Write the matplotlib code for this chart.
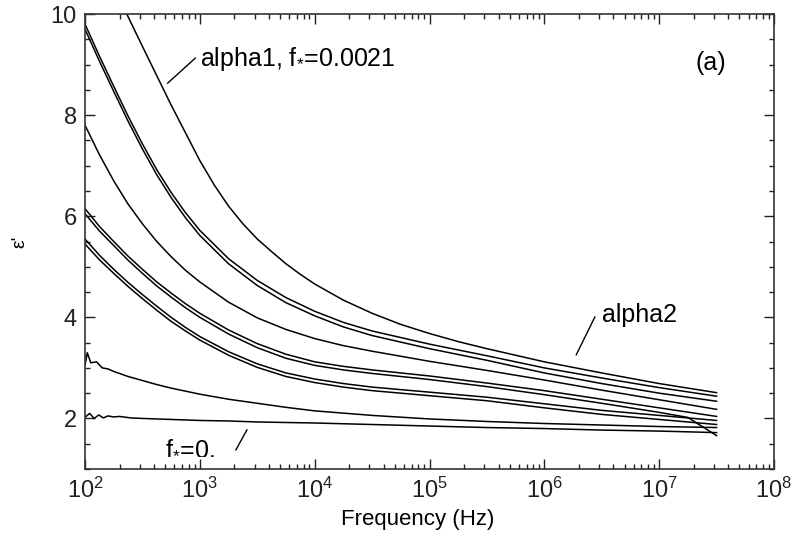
import matplotlib
matplotlib.use('Agg')
import matplotlib.pyplot as plt
from matplotlib.ticker import LogLocator, MultipleLocator, FixedLocator, FixedFormatter, NullFormatter

plt.rcParams['font.family'] = ['Liberation Sans', 'DejaVu Sans']
plt.rcParams['mathtext.fontset'] = 'custom'
plt.rcParams['mathtext.rm'] = 'Liberation Sans'
plt.rcParams['mathtext.it'] = 'Liberation Sans:italic'
plt.rcParams['mathtext.bf'] = 'Liberation Sans:bold'

# ---- data (log10 of frequency in Hz, epsilon') ----
log_f = [2.0, 2.125, 2.25, 2.375, 2.5, 2.625, 2.75, 2.875, 3.0, 3.25, 3.5, 3.75,
         4.0, 4.25, 4.5, 5.0, 5.5, 6.0, 6.5, 7.0, 7.5]

log_f_a = [2.3, 2.4, 2.5, 2.625, 2.75, 2.875, 3.0, 3.125, 3.25, 3.375, 3.5, 3.625,
           3.75, 3.875, 4.0, 4.25, 4.5, 4.75, 5.0, 5.25, 5.5, 6.0, 6.5, 7.0, 7.5]
eps_a = [10.3, 9.83, 9.36, 8.78, 8.2, 7.65, 7.1, 6.62, 6.2, 5.85, 5.55, 5.3,
         5.06, 4.85, 4.66, 4.34, 4.08, 3.86, 3.68, 3.52, 3.38, 3.12, 2.9, 2.69, 2.51]

eps_b1 = [9.8, 9.17, 8.57, 7.98, 7.43, 6.92, 6.47, 6.07, 5.72, 5.16, 4.73, 4.39,
          4.12, 3.9, 3.73, 3.47, 3.24, 3.0, 2.8, 2.61, 2.44]
eps_b2 = [9.7, 9.07, 8.47, 7.88, 7.33, 6.82, 6.37, 5.97, 5.62, 5.06, 4.63, 4.29,
          4.03, 3.81, 3.64, 3.38, 3.15, 2.9, 2.69, 2.5, 2.34]
eps_c = [7.8, 7.22, 6.7, 6.24, 5.85, 5.5, 5.2, 4.93, 4.7, 4.3, 3.99, 3.76,
         3.58, 3.44, 3.33, 3.13, 2.95, 2.76, 2.56, 2.37, 2.18]
eps_d1 = [6.15, 5.8, 5.5, 5.21, 4.95, 4.7, 4.48, 4.27, 4.08, 3.75, 3.48, 3.27,
          3.12, 3.03, 2.96, 2.84, 2.7, 2.55, 2.38, 2.21, 2.04]

log_f_d2 = [2.0, 2.125, 2.25, 2.375, 2.5, 2.625, 2.75, 2.875, 3.0, 3.25, 3.5, 3.75,
            4.0, 4.25, 4.5, 5.0, 5.5, 6.0, 6.5, 7.0, 7.25, 7.5]
eps_d2 = [6.05, 5.71, 5.42, 5.13, 4.87, 4.62, 4.4, 4.19, 4.0, 3.67, 3.4, 3.19,
          3.05, 2.96, 2.89, 2.77, 2.63, 2.47, 2.3, 2.12, 2.02, 1.66]

eps_e1 = [5.55, 5.23, 4.95, 4.69, 4.45, 4.22, 4.0, 3.8, 3.62, 3.32, 3.08, 2.9,
          2.78, 2.69, 2.62, 2.52, 2.42, 2.29, 2.16, 2.06, 1.96]
eps_e2 = [5.45, 5.14, 4.87, 4.61, 4.37, 4.14, 3.92, 3.73, 3.55, 3.25, 3.01, 2.83,
          2.71, 2.62, 2.55, 2.45, 2.35, 2.21, 2.08, 1.98, 1.88]

log_f_f = [2.0, 2.02, 2.05, 2.1, 2.15, 2.2, 2.25, 2.375, 2.5, 2.625, 2.75, 2.875, 3.0,
           3.25, 3.5, 3.75, 4.0, 4.5, 5.0, 5.5, 6.0, 6.5, 7.0, 7.5]
eps_f = [3.05, 3.3, 3.1, 3.12, 3.0, 2.98, 2.93, 2.83, 2.75, 2.67, 2.6, 2.54, 2.48,
         2.38, 2.3, 2.22, 2.15, 2.06, 1.99, 1.94, 1.9, 1.87, 1.84, 1.82]

log_f_g = [2.0, 2.04, 2.08, 2.12, 2.16, 2.2, 2.25, 2.3, 2.4, 2.5, 2.75, 3.0, 3.25,
           3.5, 3.75, 4.0, 4.5, 5.0, 5.5, 6.0, 6.5, 7.0, 7.5]
eps_g = [2.02, 2.1, 2.0, 2.07, 2.01, 2.05, 2.03, 2.04, 2.01, 2.0, 1.98, 1.96, 1.95,
         1.93, 1.92, 1.91, 1.88, 1.85, 1.82, 1.8, 1.77, 1.75, 1.72]

series = [
    (log_f_a, eps_a), (log_f, eps_b1), (log_f, eps_b2), (log_f, eps_c),
    (log_f, eps_d1), (log_f_d2, eps_d2), (log_f, eps_e1), (log_f, eps_e2),
    (log_f_f, eps_f), (log_f_g, eps_g),
]

x_tick_exps = [2, 3, 4, 5, 6, 7, 8]
y_ticks = [2, 4, 6, 8, 10]

fig = plt.figure(figsize=(8.05, 5.37), dpi=100)
ax = fig.add_axes([85/805, 1 - 469/537, 689/805, 455/537])

for lf, eps in series:
    ax.plot([10 ** v for v in lf], eps, color='black', lw=1.1)

ax.set_xscale('log')
ax.set_xlim(10 ** 2, 10 ** 8)
ax.set_ylim(1, 10)

ax.xaxis.set_major_locator(FixedLocator([10 ** e for e in x_tick_exps]))
ax.xaxis.set_major_formatter(FixedFormatter([r'$10^{%d}$' % e for e in x_tick_exps]))
ax.xaxis.set_minor_locator(LogLocator(base=10, subs=range(2, 10), numticks=20))
ax.xaxis.set_minor_formatter(NullFormatter())
ax.yaxis.set_major_locator(FixedLocator(y_ticks))
ax.yaxis.set_minor_locator(MultipleLocator(0.5))

ax.tick_params(which='both', direction='in', top=True, right=True, width=1.0, colors='#222222')
ax.tick_params(which='major', length=7, labelsize=17, pad=6)
ax.tick_params(which='minor', length=3.5)
for s in ax.spines.values():
    s.set_linewidth(1.2)
    s.set_color('#333333')

fig.text(418/805, 1 - 520/537, 'Frequency (Hz)', fontsize=16, ha='center', va='center')
fig.text(20/805, 1 - 242/537, "ε'", fontsize=14, rotation=90, ha='center', va='center')

ax.text(0.167, 0.901, r'alpha1, f$_{*}$=0.0021', transform=ax.transAxes,
        fontsize=18, va='center', ha='left')
ax.plot([0.160, 0.120], [0.903, 0.848], transform=ax.transAxes, color='black', lw=1.0)

ax.text(0.909, 0.893, '(a)', transform=ax.transAxes, fontsize=18, va='center', ha='center')

ax.text(0.750, 0.338, 'alpha2', transform=ax.transAxes, fontsize=18, va='center', ha='left')
ax.plot([0.740, 0.713], [0.334, 0.251], transform=ax.transAxes, color='black', lw=1.0)

ax.text(0.116, 0.048, r'f$_{*}$=0.', transform=ax.transAxes, fontsize=18, va='center', ha='left')
ax.plot([0.235, 0.219], [0.086, 0.042], transform=ax.transAxes, color='black', lw=1.0)

fig.savefig('out.png', dpi=100)
